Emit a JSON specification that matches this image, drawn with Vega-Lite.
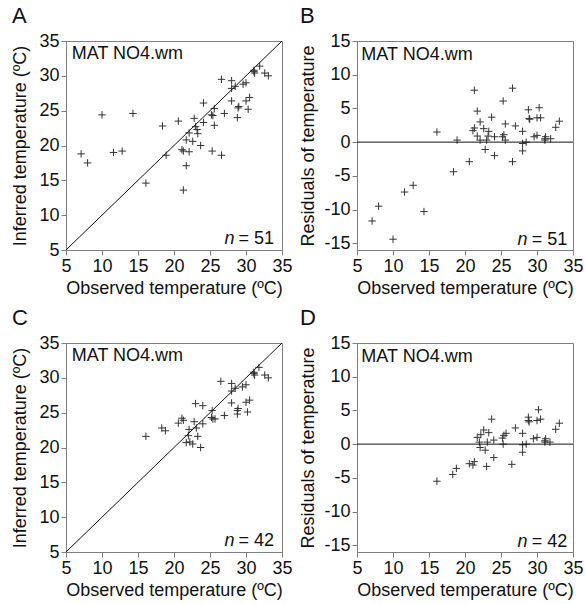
{
  "$schema": "https://vega.github.io/schema/vega-lite/v6.json",
  "padding": {"left": 11, "top": 4, "right": 4, "bottom": 2},
  "background": "white",
  "columns": 2,
  "spacing": {"row": 8, "column": 6},
  "datasets": {
    "one": [{}],
    "A": [
      {"obs": 7.1, "inf": 18.8, "res": -11.7},
      {"obs": 8.0, "inf": 17.5, "res": -9.5},
      {"obs": 10.0, "inf": 24.4, "res": -14.4},
      {"obs": 11.6, "inf": 19.0, "res": -7.4},
      {"obs": 12.8, "inf": 19.2, "res": -6.4},
      {"obs": 14.3, "inf": 24.6, "res": -10.3},
      {"obs": 16.1, "inf": 14.6, "res": 1.5},
      {"obs": 18.4, "inf": 22.8, "res": -4.4},
      {"obs": 18.9, "inf": 18.6, "res": 0.3},
      {"obs": 20.6, "inf": 23.5, "res": -2.9},
      {"obs": 21.1, "inf": 19.4, "res": 1.7},
      {"obs": 21.3, "inf": 19.2, "res": 2.1},
      {"obs": 21.3, "inf": 13.6, "res": 7.7},
      {"obs": 21.7, "inf": 17.1, "res": 4.6},
      {"obs": 21.7, "inf": 20.8, "res": 0.9},
      {"obs": 22.1, "inf": 19.1, "res": 3.0},
      {"obs": 22.1, "inf": 21.8, "res": 0.3},
      {"obs": 22.6, "inf": 20.6, "res": 2.0},
      {"obs": 22.8, "inf": 23.9, "res": -1.1},
      {"obs": 23.0, "inf": 22.7, "res": 0.3},
      {"obs": 23.3, "inf": 21.7, "res": 1.6},
      {"obs": 23.7, "inf": 20.0, "res": 3.7},
      {"obs": 24.1, "inf": 26.1, "res": -2.0},
      {"obs": 24.1, "inf": 23.3, "res": 0.8},
      {"obs": 25.2, "inf": 24.4, "res": 0.8},
      {"obs": 25.3, "inf": 19.2, "res": 6.1},
      {"obs": 25.4, "inf": 24.3, "res": 1.1},
      {"obs": 25.6, "inf": 25.3, "res": 0.3},
      {"obs": 25.6, "inf": 22.9, "res": 2.7},
      {"obs": 26.6, "inf": 29.5, "res": -2.9},
      {"obs": 26.6, "inf": 18.6, "res": 8.0},
      {"obs": 27.0, "inf": 24.6, "res": 2.4},
      {"obs": 28.0, "inf": 29.3, "res": -1.3},
      {"obs": 28.0, "inf": 26.4, "res": 1.6},
      {"obs": 28.0, "inf": 28.2, "res": -0.2},
      {"obs": 28.5, "inf": 28.5, "res": 0.0},
      {"obs": 28.8, "inf": 24.0, "res": 4.8},
      {"obs": 28.9, "inf": 25.4, "res": 3.5},
      {"obs": 29.0, "inf": 25.6, "res": 3.4},
      {"obs": 29.6, "inf": 28.8, "res": 0.8},
      {"obs": 30.0, "inf": 29.0, "res": 1.0},
      {"obs": 30.0, "inf": 26.4, "res": 3.6},
      {"obs": 30.3, "inf": 25.2, "res": 5.1},
      {"obs": 30.5, "inf": 26.9, "res": 3.6},
      {"obs": 31.1, "inf": 30.8, "res": 0.3},
      {"obs": 31.2, "inf": 30.4, "res": 0.8},
      {"obs": 31.9, "inf": 31.4, "res": 0.5},
      {"obs": 32.6, "inf": 30.4, "res": 2.2},
      {"obs": 33.1, "inf": 30.0, "res": 3.1},
      {"obs": 23.2, "inf": 22.3, "res": 0.9},
      {"obs": 31.1, "inf": 30.6, "res": 0.5}
    ],
    "C": [
      {"obs": 16.1, "inf": 21.6, "res": -5.5},
      {"obs": 18.3, "inf": 22.8, "res": -4.5},
      {"obs": 18.8, "inf": 22.4, "res": -3.6},
      {"obs": 20.6, "inf": 23.5, "res": -2.9},
      {"obs": 21.1, "inf": 24.2, "res": -3.1},
      {"obs": 21.3, "inf": 23.9, "res": -2.6},
      {"obs": 21.7, "inf": 20.7, "res": 1.0},
      {"obs": 22.0, "inf": 21.7, "res": 0.3},
      {"obs": 22.1, "inf": 22.6, "res": -0.5},
      {"obs": 22.2, "inf": 20.8, "res": 1.4},
      {"obs": 22.6, "inf": 20.5, "res": 2.1},
      {"obs": 22.8, "inf": 23.7, "res": -0.9},
      {"obs": 23.0, "inf": 26.3, "res": -3.3},
      {"obs": 23.1, "inf": 22.8, "res": 0.3},
      {"obs": 23.3, "inf": 21.6, "res": 1.7},
      {"obs": 23.7, "inf": 20.0, "res": 3.7},
      {"obs": 24.0, "inf": 26.0, "res": -2.0},
      {"obs": 24.0, "inf": 23.4, "res": 0.6},
      {"obs": 25.2, "inf": 24.3, "res": 0.9},
      {"obs": 25.3, "inf": 25.3, "res": 0.0},
      {"obs": 25.4, "inf": 24.1, "res": 1.3},
      {"obs": 25.7, "inf": 24.1, "res": 1.6},
      {"obs": 26.5, "inf": 29.5, "res": -3.0},
      {"obs": 27.0, "inf": 24.6, "res": 2.4},
      {"obs": 28.0, "inf": 29.2, "res": -1.2},
      {"obs": 28.0, "inf": 26.4, "res": 1.6},
      {"obs": 28.0, "inf": 28.1, "res": -0.1},
      {"obs": 28.5, "inf": 28.5, "res": 0.0},
      {"obs": 28.8, "inf": 25.3, "res": 3.5},
      {"obs": 28.8, "inf": 24.8, "res": 4.0},
      {"obs": 28.9, "inf": 25.6, "res": 3.3},
      {"obs": 29.5, "inf": 28.7, "res": 0.8},
      {"obs": 30.0, "inf": 29.0, "res": 1.0},
      {"obs": 30.0, "inf": 26.5, "res": 3.5},
      {"obs": 30.2, "inf": 25.1, "res": 5.1},
      {"obs": 30.5, "inf": 26.8, "res": 3.7},
      {"obs": 31.1, "inf": 30.8, "res": 0.3},
      {"obs": 31.2, "inf": 30.4, "res": 0.8},
      {"obs": 31.8, "inf": 31.5, "res": 0.3},
      {"obs": 32.6, "inf": 30.4, "res": 2.2},
      {"obs": 33.1, "inf": 30.0, "res": 3.1},
      {"obs": 31.1, "inf": 30.6, "res": 0.5}
    ]
  },
  "concat": [
    {
      "title": {"text": "A"},
      "width": 216, "height": 209,
      "layer": [
        {"data": {"name": "A"},
         "mark": {"type": "point", "shape": "M-1,0H1M0,-1V1", "filled": false, "stroke": "#333", "strokeWidth": 1, "size": 55, "opacity": 1},
         "encoding": {
           "x": {"field": "obs", "type": "quantitative", "scale": {"domain": [5, 35], "nice": false, "zero": false}, "axis": {"values": [5, 10, 15, 20, 25, 30, 35], "labelOverlap": false, "title": "Observed temperature (ºC)"}},
           "y": {"field": "inf", "type": "quantitative", "scale": {"domain": [5, 35], "nice": false, "zero": false}, "axis": {"values": [5, 10, 15, 20, 25, 30, 35], "labelOverlap": false, "title": "Inferred temperature (ºC)"}}
         }},
        {"data": {"name": "one"}, "mark": {"type": "rule", "color": "#111", "strokeWidth": 1},
         "encoding": {
           "x": {"datum": 5, "type": "quantitative", "scale": {"domain": [5, 35], "nice": false, "zero": false}, "axis": {"values": [5, 10, 15, 20, 25, 30, 35], "labelOverlap": false, "title": "Observed temperature (ºC)"}},
           "y": {"datum": 5, "type": "quantitative", "scale": {"domain": [5, 35], "nice": false, "zero": false}, "axis": {"values": [5, 10, 15, 20, 25, 30, 35], "labelOverlap": false, "title": "Inferred temperature (ºC)"}},
           "x2": {"datum": 35}, "y2": {"datum": 35}}},
        {"data": {"name": "one"}, "mark": {"type": "text", "align": "left", "baseline": "alphabetic", "fontSize": 18, "color": "#111"},
         "encoding": {
           "x": {"datum": 5.8, "type": "quantitative", "scale": {"domain": [5, 35], "nice": false, "zero": false}, "axis": {"values": [5, 10, 15, 20, 25, 30, 35], "labelOverlap": false, "title": "Observed temperature (ºC)"}},
           "y": {"datum": 32.4, "type": "quantitative", "scale": {"domain": [5, 35], "nice": false, "zero": false}, "axis": {"values": [5, 10, 15, 20, 25, 30, 35], "labelOverlap": false, "title": "Inferred temperature (ºC)"}},
           "text": {"value": "MAT NO4.wm"}}},
        {"data": {"name": "one"}, "mark": {"type": "text", "align": "right", "baseline": "alphabetic", "fontSize": 18, "fontStyle": "italic", "color": "#111"},
         "encoding": {
           "x": {"datum": 28.4, "type": "quantitative", "scale": {"domain": [5, 35], "nice": false, "zero": false}, "axis": {"values": [5, 10, 15, 20, 25, 30, 35], "labelOverlap": false, "title": "Observed temperature (ºC)"}},
           "y": {"datum": 5.8, "type": "quantitative", "scale": {"domain": [5, 35], "nice": false, "zero": false}, "axis": {"values": [5, 10, 15, 20, 25, 30, 35], "labelOverlap": false, "title": "Inferred temperature (ºC)"}},
           "text": {"value": "n"}}},
        {"data": {"name": "one"}, "mark": {"type": "text", "align": "right", "baseline": "alphabetic", "fontSize": 18, "color": "#111"},
         "encoding": {
           "x": {"datum": 33.9, "type": "quantitative", "scale": {"domain": [5, 35], "nice": false, "zero": false}, "axis": {"values": [5, 10, 15, 20, 25, 30, 35], "labelOverlap": false, "title": "Observed temperature (ºC)"}},
           "y": {"datum": 5.8, "type": "quantitative", "scale": {"domain": [5, 35], "nice": false, "zero": false}, "axis": {"values": [5, 10, 15, 20, 25, 30, 35], "labelOverlap": false, "title": "Inferred temperature (ºC)"}},
           "text": {"value": "= 51"}}}
      ]
    },
    {
      "title": {"text": "B"},
      "width": 216, "height": 209,
      "layer": [
        {"data": {"name": "A"},
         "mark": {"type": "point", "shape": "M-1,0H1M0,-1V1", "filled": false, "stroke": "#333", "strokeWidth": 1, "size": 55, "opacity": 1},
         "encoding": {
           "x": {"field": "obs", "type": "quantitative", "scale": {"domain": [5, 35], "nice": false, "zero": false}, "axis": {"values": [5, 10, 15, 20, 25, 30, 35], "labelOverlap": false, "title": "Observed temperature (ºC)"}},
           "y": {"field": "res", "type": "quantitative", "scale": {"domain": [-16, 15], "nice": false, "zero": false}, "axis": {"values": [-15, -10, -5, 0, 5, 10, 15], "labelOverlap": false, "title": "Residuals of temperature", "titlePadding": 6, "labelExpr": "'' + datum.value"}}
         }},
        {"data": {"name": "one"}, "mark": {"type": "rule", "color": "#111", "strokeWidth": 1},
         "encoding": {
           "y": {"datum": 0, "type": "quantitative", "scale": {"domain": [-16, 15], "nice": false, "zero": false}, "axis": {"values": [-15, -10, -5, 0, 5, 10, 15], "labelOverlap": false, "title": "Residuals of temperature", "titlePadding": 6, "labelExpr": "'' + datum.value"}}}},
        {"data": {"name": "one"}, "mark": {"type": "text", "align": "left", "baseline": "alphabetic", "fontSize": 18, "color": "#111"},
         "encoding": {
           "x": {"datum": 5.6, "type": "quantitative", "scale": {"domain": [5, 35], "nice": false, "zero": false}, "axis": {"values": [5, 10, 15, 20, 25, 30, 35], "labelOverlap": false, "title": "Observed temperature (ºC)"}},
           "y": {"datum": 12.2, "type": "quantitative", "scale": {"domain": [-16, 15], "nice": false, "zero": false}, "axis": {"values": [-15, -10, -5, 0, 5, 10, 15], "labelOverlap": false, "title": "Residuals of temperature", "titlePadding": 6, "labelExpr": "'' + datum.value"}},
           "text": {"value": "MAT NO4.wm"}}},
        {"data": {"name": "one"}, "mark": {"type": "text", "align": "right", "baseline": "alphabetic", "fontSize": 18, "fontStyle": "italic", "color": "#111"},
         "encoding": {
           "x": {"datum": 28.7, "type": "quantitative", "scale": {"domain": [5, 35], "nice": false, "zero": false}, "axis": {"values": [5, 10, 15, 20, 25, 30, 35], "labelOverlap": false, "title": "Observed temperature (ºC)"}},
           "y": {"datum": -15.3, "type": "quantitative", "scale": {"domain": [-16, 15], "nice": false, "zero": false}, "axis": {"values": [-15, -10, -5, 0, 5, 10, 15], "labelOverlap": false, "title": "Residuals of temperature", "titlePadding": 6, "labelExpr": "'' + datum.value"}},
           "text": {"value": "n"}}},
        {"data": {"name": "one"}, "mark": {"type": "text", "align": "right", "baseline": "alphabetic", "fontSize": 18, "color": "#111"},
         "encoding": {
           "x": {"datum": 34.2, "type": "quantitative", "scale": {"domain": [5, 35], "nice": false, "zero": false}, "axis": {"values": [5, 10, 15, 20, 25, 30, 35], "labelOverlap": false, "title": "Observed temperature (ºC)"}},
           "y": {"datum": -15.3, "type": "quantitative", "scale": {"domain": [-16, 15], "nice": false, "zero": false}, "axis": {"values": [-15, -10, -5, 0, 5, 10, 15], "labelOverlap": false, "title": "Residuals of temperature", "titlePadding": 6, "labelExpr": "'' + datum.value"}},
           "text": {"value": "= 51"}}}
      ]
    },
    {
      "title": {"text": "C"},
      "width": 216, "height": 209,
      "layer": [
        {"data": {"name": "C"},
         "mark": {"type": "point", "shape": "M-1,0H1M0,-1V1", "filled": false, "stroke": "#333", "strokeWidth": 1, "size": 55, "opacity": 1},
         "encoding": {
           "x": {"field": "obs", "type": "quantitative", "scale": {"domain": [5, 35], "nice": false, "zero": false}, "axis": {"values": [5, 10, 15, 20, 25, 30, 35], "labelOverlap": false, "title": "Observed temperature (ºC)"}},
           "y": {"field": "inf", "type": "quantitative", "scale": {"domain": [5, 35], "nice": false, "zero": false}, "axis": {"values": [5, 10, 15, 20, 25, 30, 35], "labelOverlap": false, "title": "Inferred temperature (ºC)"}}
         }},
        {"data": {"name": "one"}, "mark": {"type": "rule", "color": "#111", "strokeWidth": 1},
         "encoding": {
           "x": {"datum": 5, "type": "quantitative", "scale": {"domain": [5, 35], "nice": false, "zero": false}, "axis": {"values": [5, 10, 15, 20, 25, 30, 35], "labelOverlap": false, "title": "Observed temperature (ºC)"}},
           "y": {"datum": 5, "type": "quantitative", "scale": {"domain": [5, 35], "nice": false, "zero": false}, "axis": {"values": [5, 10, 15, 20, 25, 30, 35], "labelOverlap": false, "title": "Inferred temperature (ºC)"}},
           "x2": {"datum": 35}, "y2": {"datum": 35}}},
        {"data": {"name": "one"}, "mark": {"type": "text", "align": "left", "baseline": "alphabetic", "fontSize": 18, "color": "#111"},
         "encoding": {
           "x": {"datum": 5.8, "type": "quantitative", "scale": {"domain": [5, 35], "nice": false, "zero": false}, "axis": {"values": [5, 10, 15, 20, 25, 30, 35], "labelOverlap": false, "title": "Observed temperature (ºC)"}},
           "y": {"datum": 32.4, "type": "quantitative", "scale": {"domain": [5, 35], "nice": false, "zero": false}, "axis": {"values": [5, 10, 15, 20, 25, 30, 35], "labelOverlap": false, "title": "Inferred temperature (ºC)"}},
           "text": {"value": "MAT NO4.wm"}}},
        {"data": {"name": "one"}, "mark": {"type": "text", "align": "right", "baseline": "alphabetic", "fontSize": 18, "fontStyle": "italic", "color": "#111"},
         "encoding": {
           "x": {"datum": 28.4, "type": "quantitative", "scale": {"domain": [5, 35], "nice": false, "zero": false}, "axis": {"values": [5, 10, 15, 20, 25, 30, 35], "labelOverlap": false, "title": "Observed temperature (ºC)"}},
           "y": {"datum": 5.8, "type": "quantitative", "scale": {"domain": [5, 35], "nice": false, "zero": false}, "axis": {"values": [5, 10, 15, 20, 25, 30, 35], "labelOverlap": false, "title": "Inferred temperature (ºC)"}},
           "text": {"value": "n"}}},
        {"data": {"name": "one"}, "mark": {"type": "text", "align": "right", "baseline": "alphabetic", "fontSize": 18, "color": "#111"},
         "encoding": {
           "x": {"datum": 33.9, "type": "quantitative", "scale": {"domain": [5, 35], "nice": false, "zero": false}, "axis": {"values": [5, 10, 15, 20, 25, 30, 35], "labelOverlap": false, "title": "Observed temperature (ºC)"}},
           "y": {"datum": 5.8, "type": "quantitative", "scale": {"domain": [5, 35], "nice": false, "zero": false}, "axis": {"values": [5, 10, 15, 20, 25, 30, 35], "labelOverlap": false, "title": "Inferred temperature (ºC)"}},
           "text": {"value": "= 42"}}}
      ]
    },
    {
      "title": {"text": "D"},
      "width": 216, "height": 209,
      "layer": [
        {"data": {"name": "C"},
         "mark": {"type": "point", "shape": "M-1,0H1M0,-1V1", "filled": false, "stroke": "#333", "strokeWidth": 1, "size": 55, "opacity": 1},
         "encoding": {
           "x": {"field": "obs", "type": "quantitative", "scale": {"domain": [5, 35], "nice": false, "zero": false}, "axis": {"values": [5, 10, 15, 20, 25, 30, 35], "labelOverlap": false, "title": "Observed temperature (ºC)"}},
           "y": {"field": "res", "type": "quantitative", "scale": {"domain": [-16, 15], "nice": false, "zero": false}, "axis": {"values": [-15, -10, -5, 0, 5, 10, 15], "labelOverlap": false, "title": "Residuals of temperature", "titlePadding": 6, "labelExpr": "'' + datum.value"}}
         }},
        {"data": {"name": "one"}, "mark": {"type": "rule", "color": "#111", "strokeWidth": 1},
         "encoding": {
           "y": {"datum": 0, "type": "quantitative", "scale": {"domain": [-16, 15], "nice": false, "zero": false}, "axis": {"values": [-15, -10, -5, 0, 5, 10, 15], "labelOverlap": false, "title": "Residuals of temperature", "titlePadding": 6, "labelExpr": "'' + datum.value"}}}},
        {"data": {"name": "one"}, "mark": {"type": "text", "align": "left", "baseline": "alphabetic", "fontSize": 18, "color": "#111"},
         "encoding": {
           "x": {"datum": 5.6, "type": "quantitative", "scale": {"domain": [5, 35], "nice": false, "zero": false}, "axis": {"values": [5, 10, 15, 20, 25, 30, 35], "labelOverlap": false, "title": "Observed temperature (ºC)"}},
           "y": {"datum": 12.2, "type": "quantitative", "scale": {"domain": [-16, 15], "nice": false, "zero": false}, "axis": {"values": [-15, -10, -5, 0, 5, 10, 15], "labelOverlap": false, "title": "Residuals of temperature", "titlePadding": 6, "labelExpr": "'' + datum.value"}},
           "text": {"value": "MAT NO4.wm"}}},
        {"data": {"name": "one"}, "mark": {"type": "text", "align": "right", "baseline": "alphabetic", "fontSize": 18, "fontStyle": "italic", "color": "#111"},
         "encoding": {
           "x": {"datum": 28.7, "type": "quantitative", "scale": {"domain": [5, 35], "nice": false, "zero": false}, "axis": {"values": [5, 10, 15, 20, 25, 30, 35], "labelOverlap": false, "title": "Observed temperature (ºC)"}},
           "y": {"datum": -15.3, "type": "quantitative", "scale": {"domain": [-16, 15], "nice": false, "zero": false}, "axis": {"values": [-15, -10, -5, 0, 5, 10, 15], "labelOverlap": false, "title": "Residuals of temperature", "titlePadding": 6, "labelExpr": "'' + datum.value"}},
           "text": {"value": "n"}}},
        {"data": {"name": "one"}, "mark": {"type": "text", "align": "right", "baseline": "alphabetic", "fontSize": 18, "color": "#111"},
         "encoding": {
           "x": {"datum": 34.2, "type": "quantitative", "scale": {"domain": [5, 35], "nice": false, "zero": false}, "axis": {"values": [5, 10, 15, 20, 25, 30, 35], "labelOverlap": false, "title": "Observed temperature (ºC)"}},
           "y": {"datum": -15.3, "type": "quantitative", "scale": {"domain": [-16, 15], "nice": false, "zero": false}, "axis": {"values": [-15, -10, -5, 0, 5, 10, 15], "labelOverlap": false, "title": "Residuals of temperature", "titlePadding": 6, "labelExpr": "'' + datum.value"}},
           "text": {"value": "= 42"}}}
      ]
    }
  ],
  "config": {
    "font": "Liberation Sans",
    "view": {"stroke": "#808080", "strokeWidth": 1},
    "axis": {"grid": false, "domainColor": "#808080", "tickColor": "#808080", "tickSize": 5, "labelFontSize": 18, "labelColor": "#111", "labelPadding": 2, "labelFlush": false, "labelOverlap": false, "titleFontSize": 18, "titleFontWeight": "normal", "titleColor": "#111"},
    "axisX": {"titlePadding": 4},
    "axisY": {"titlePadding": 9},
    "title": {"anchor": "start", "frame": "bounds", "fontSize": 22, "fontWeight": "normal", "color": "#111", "offset": 4}
  }
}
